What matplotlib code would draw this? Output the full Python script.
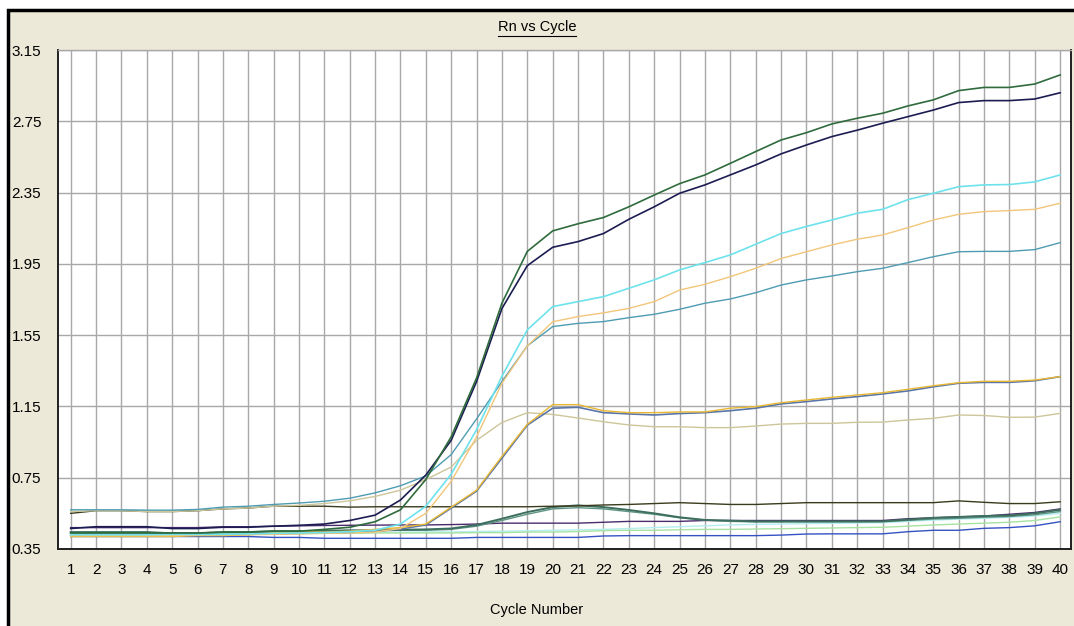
import matplotlib
matplotlib.use("Agg")
import matplotlib.pyplot as plt
from matplotlib.patches import Rectangle
from matplotlib.lines import Line2D

# ---- data -------------------------------------------------------------
cycles = list(range(1, 41))
y_ticks = [0.35, 0.75, 1.15, 1.55, 1.95, 2.35, 2.75, 3.15]
y_tick_labels = ["0.35", "0.75", "1.15", "1.55", "1.95", "2.35", "2.75", "3.15"]

rn_dark_green = [0.440, 0.440, 0.440, 0.440, 0.440, 0.440, 0.445, 0.445, 0.450, 0.450,
                 0.460, 0.472, 0.503, 0.570, 0.740, 0.980, 1.310, 1.730, 2.020, 2.135,
                 2.175, 2.210, 2.270, 2.336, 2.400, 2.449, 2.514, 2.580, 2.645, 2.686,
                 2.735, 2.767, 2.795, 2.836, 2.870, 2.922, 2.940, 2.940, 2.959, 3.010]
rn_navy = [0.465, 0.475, 0.475, 0.475, 0.465, 0.465, 0.472, 0.472, 0.478, 0.483,
           0.490, 0.510, 0.540, 0.625, 0.765, 0.960, 1.290, 1.700, 1.940, 2.043,
           2.075, 2.120, 2.200, 2.270, 2.346, 2.393, 2.449, 2.505, 2.567, 2.617,
           2.664, 2.700, 2.739, 2.776, 2.813, 2.855, 2.866, 2.866, 2.875, 2.910]
rn_cyan = [0.430, 0.430, 0.430, 0.430, 0.432, 0.432, 0.432, 0.435, 0.438, 0.440,
           0.442, 0.447, 0.455, 0.490, 0.590, 0.770, 1.020, 1.320, 1.580, 1.710,
           1.738, 1.766, 1.813, 1.860, 1.916, 1.957, 2.000, 2.060, 2.120, 2.160,
           2.196, 2.234, 2.256, 2.310, 2.346, 2.383, 2.393, 2.395, 2.410, 2.449]
rn_light_orange = [0.425, 0.425, 0.425, 0.425, 0.425, 0.428, 0.430, 0.430, 0.432, 0.435,
                   0.438, 0.440, 0.445, 0.465, 0.550, 0.730, 0.980, 1.280, 1.490, 1.625,
                   1.654, 1.675, 1.700, 1.738, 1.803, 1.835, 1.878, 1.925, 1.980, 2.018,
                   2.056, 2.088, 2.112, 2.153, 2.196, 2.228, 2.243, 2.249, 2.256, 2.290]
rn_steel = [0.570, 0.570, 0.570, 0.568, 0.568, 0.572, 0.585, 0.590, 0.600, 0.608,
            0.618, 0.635, 0.665, 0.705, 0.760, 0.880, 1.080, 1.290, 1.490, 1.598,
            1.616, 1.626, 1.648, 1.667, 1.695, 1.729, 1.753, 1.788, 1.831, 1.860,
            1.882, 1.906, 1.925, 1.957, 1.990, 2.018, 2.020, 2.020, 2.030, 2.069]
rn_khaki = [0.560, 0.565, 0.565, 0.560, 0.560, 0.565, 0.575, 0.580, 0.590, 0.595,
            0.605, 0.620, 0.645, 0.680, 0.740, 0.810, 0.960, 1.060, 1.115, 1.105,
            1.085, 1.064, 1.046, 1.036, 1.036, 1.031, 1.031, 1.040, 1.051, 1.055,
            1.055, 1.061, 1.062, 1.074, 1.083, 1.102, 1.099, 1.089, 1.090, 1.111]
rn_gold = [0.420, 0.420, 0.420, 0.420, 0.420, 0.425, 0.425, 0.430, 0.440, 0.445,
           0.445, 0.450, 0.460, 0.470, 0.490, 0.585, 0.680, 0.870, 1.050, 1.160,
           1.160, 1.126, 1.115, 1.115, 1.119, 1.119, 1.140, 1.149, 1.171, 1.186,
           1.201, 1.214, 1.227, 1.246, 1.266, 1.283, 1.291, 1.291, 1.298, 1.317]
rn_grey_blue = [0.430, 0.430, 0.430, 0.430, 0.428, 0.428, 0.430, 0.432, 0.435, 0.438,
                0.440, 0.443, 0.450, 0.462, 0.485, 0.580, 0.675, 0.860, 1.045, 1.140,
                1.145, 1.115, 1.108, 1.102, 1.110, 1.115, 1.126, 1.140, 1.164, 1.177,
                1.192, 1.205, 1.220, 1.237, 1.260, 1.280, 1.285, 1.285, 1.294, 1.317]
rn_olive = [0.550, 0.565, 0.565, 0.560, 0.560, 0.565, 0.575, 0.580, 0.590, 0.590,
            0.590, 0.585, 0.587, 0.587, 0.587, 0.587, 0.587, 0.587, 0.587, 0.590,
            0.592, 0.597, 0.600, 0.605, 0.610, 0.605, 0.600, 0.600, 0.605, 0.610,
            0.610, 0.610, 0.610, 0.610, 0.610, 0.620, 0.612, 0.605, 0.605, 0.615]
rn_slate = [0.445, 0.445, 0.445, 0.445, 0.438, 0.438, 0.445, 0.445, 0.450, 0.450,
            0.452, 0.455, 0.455, 0.458, 0.460, 0.465, 0.485, 0.520, 0.557, 0.585,
            0.595, 0.585, 0.569, 0.550, 0.528, 0.513, 0.509, 0.505, 0.505, 0.505,
            0.505, 0.505, 0.505, 0.515, 0.525, 0.530, 0.535, 0.538, 0.550, 0.570]
rn_slate_2 = [0.440, 0.440, 0.440, 0.440, 0.440, 0.440, 0.442, 0.445, 0.448, 0.450,
              0.450, 0.452, 0.452, 0.455, 0.455, 0.460, 0.478, 0.510, 0.545, 0.575,
              0.582, 0.575, 0.560, 0.545, 0.525, 0.512, 0.505, 0.502, 0.502, 0.502,
              0.502, 0.502, 0.503, 0.510, 0.518, 0.522, 0.528, 0.532, 0.542, 0.560]
rn_purple = [0.470, 0.470, 0.470, 0.470, 0.470, 0.470, 0.475, 0.475, 0.478, 0.480,
             0.482, 0.483, 0.484, 0.485, 0.485, 0.487, 0.490, 0.495, 0.495, 0.495,
             0.495, 0.500, 0.505, 0.505, 0.505, 0.510, 0.510, 0.510, 0.510, 0.510,
             0.510, 0.510, 0.510, 0.520, 0.525, 0.530, 0.535, 0.545, 0.555, 0.575]
rn_light_green = [0.430, 0.430, 0.432, 0.432, 0.432, 0.432, 0.434, 0.434, 0.436, 0.436,
                  0.438, 0.438, 0.440, 0.440, 0.440, 0.440, 0.442, 0.442, 0.445, 0.445,
                  0.448, 0.453, 0.455, 0.455, 0.458, 0.460, 0.460, 0.462, 0.464, 0.466,
                  0.468, 0.470, 0.472, 0.478, 0.485, 0.490, 0.495, 0.500, 0.510, 0.530]
rn_blue = [0.420, 0.420, 0.420, 0.420, 0.420, 0.420, 0.420, 0.420, 0.415, 0.415,
           0.410, 0.410, 0.410, 0.410, 0.410, 0.410, 0.415, 0.415, 0.415, 0.415,
           0.415, 0.423, 0.425, 0.425, 0.425, 0.425, 0.425, 0.425, 0.428, 0.434,
           0.435, 0.435, 0.435, 0.447, 0.455, 0.455, 0.466, 0.470, 0.480, 0.503]
rn_pale_cyan = [0.435, 0.435, 0.435, 0.435, 0.438, 0.438, 0.438, 0.440, 0.440, 0.440,
                0.442, 0.442, 0.444, 0.444, 0.446, 0.446, 0.448, 0.450, 0.452, 0.455,
                0.458, 0.460, 0.465, 0.470, 0.475, 0.480, 0.485, 0.488, 0.490, 0.492,
                0.494, 0.496, 0.498, 0.505, 0.512, 0.518, 0.522, 0.528, 0.535, 0.550]

# (series, colour, width) in drawing order: flat wells first, amplifying wells on top
traces = [
    (rn_pale_cyan, "#b4eef0", 1.0),
    (rn_blue, "#3452c4", 1.0),
    (rn_light_green, "#a6e2a0", 1.0),
    (rn_purple, "#4a2c6c", 1.0),
    (rn_slate_2, "#5e9484", 1.0),
    (rn_slate, "#3d6e5e", 1.4),
    (rn_olive, "#3a3a1c", 1.0),
    (rn_khaki, "#cdc69a", 1.0),
    (rn_grey_blue, "#5a76a8", 1.2),
    (rn_gold, "#e8b834", 1.0),
    (rn_steel, "#4e9cb2", 1.0),
    (rn_light_orange, "#f2c67a", 1.0),
    (rn_cyan, "#6ee2ec", 1.2),
    (rn_navy, "#1c1c52", 1.2),
    (rn_dark_green, "#2f6b3c", 1.2),
]

# ---- figure -----------------------------------------------------------
W, H = 1074, 626
fig = plt.figure(figsize=(W / 100, H / 100), dpi=100, facecolor="white")
plt.rcParams["font.family"] = ["Liberation Sans", "DejaVu Sans"]

# beige dialog panel with a dark frame, kept behind the axes
panel = Rectangle((8 / W, -0.05), 1.2, 1 - 10 / H + 0.05, transform=fig.transFigure,
                  facecolor="#ece9d8", edgecolor="black", linewidth=2.5, zorder=-10)
fig.patches.append(panel)

left, right, top, bottom = 58, 1071, 50, 549
ax = fig.add_axes([left / W, 1 - bottom / H, (right - left) / W, (bottom - top) / H])
ax.set_zorder(5)
ax.set_facecolor("white")

for vals, col, lw in traces:
    ax.plot(cycles, vals, color=col, linewidth=lw, solid_joinstyle="miter", zorder=3)

ax.set_xlim(0.5, 40.43)
ax.set_ylim(0.35, 3.15)
ax.set_xticks(cycles)
ax.set_xticklabels([str(c) for c in cycles])
ax.set_yticks(y_ticks)
ax.set_yticklabels(y_tick_labels)
ax.tick_params(axis="both", length=0, labelsize=11, colors="black")
ax.tick_params(axis="x", pad=10)
ax.tick_params(axis="y", pad=12)
ax.grid(True, color="#a8a8a8", linewidth=1.0, zorder=1)
ax.set_axisbelow(True)
for side in ("left", "bottom", "right"):
    ax.spines[side].set_color("#202020")
    ax.spines[side].set_linewidth(1.4)
ax.spines["top"].set_color("#a8a8a8")
ax.spines["top"].set_linewidth(1.0)

# underlined title and axis caption
title = fig.text(537 / W, 1 - 27 / H, "Rn vs Cycle", ha="center", va="center",
                 fontsize=10.5, color="black", zorder=6)
fig.text(537 / W, 1 - 610 / H, "Cycle Number", ha="center", va="center",
         fontsize=10.5, color="black", zorder=6)

fig.canvas.draw()
bb = title.get_window_extent(renderer=fig.canvas.get_renderer())
y_ul = (bb.y0 - 1.5) / H
fig.lines.append(Line2D([bb.x0 / W, bb.x1 / W], [y_ul, y_ul], transform=fig.transFigure,
                        color="black", linewidth=0.8, zorder=6))

fig.savefig("out.png", dpi=100, facecolor="white")
